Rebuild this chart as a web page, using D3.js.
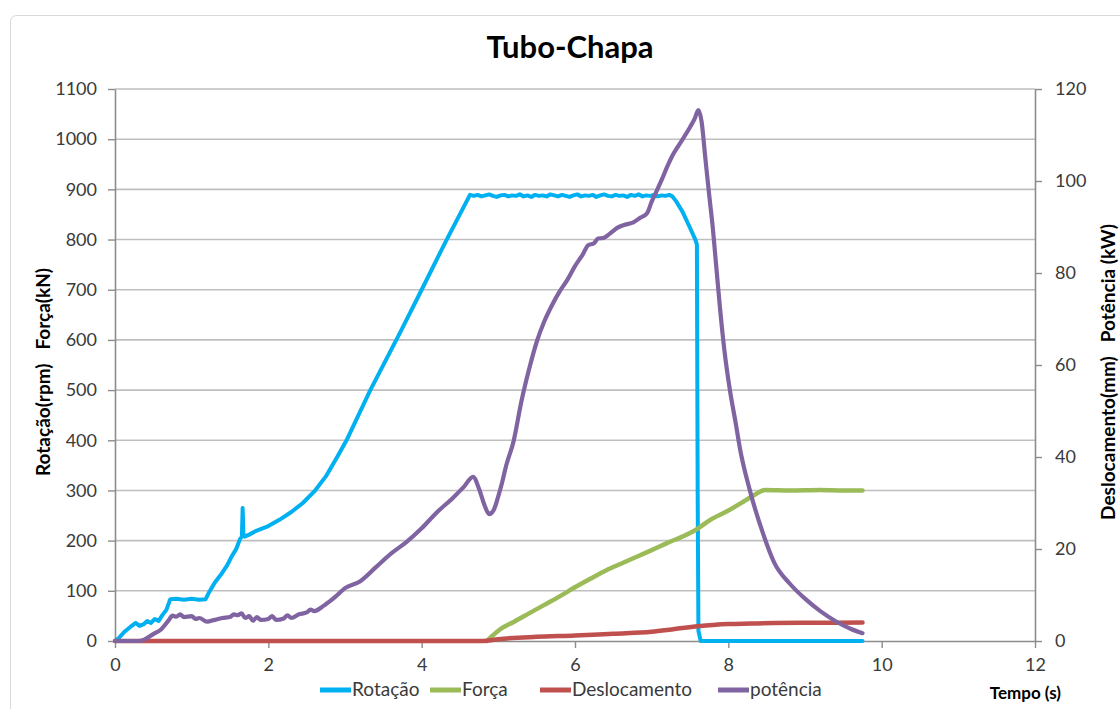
<!DOCTYPE html>
<html><head><meta charset="utf-8">
<script src="https://cdn.jsdelivr.net/npm/d3@7"></script>
<style>
html,body{margin:0;padding:0;background:#fff;}
svg{display:block;font-family:Lato,"Open Sans",sans-serif;}
</style></head>
<body><svg id="c" width="1120" height="709"></svg>
<script>
// ---------- data ----------
const title = "Tubo-Chapa";
const seriesNames = ["Rotação","Força","Deslocamento","potência"];
const xTicks = [0,2,4,6,8,10,12];
const leftTicks = [0,100,200,300,400,500,600,700,800,900,1000,1100];
const rightTicks = [0,20,40,60,80,100,120];

const rotacaoT = [0,0.05,0.12,0.2,0.27,0.32,0.37,0.42,0.47,0.52,0.57,0.62,0.67,0.72,0.8,0.9,1.0,1.1,1.18,1.22,1.3,1.38,1.46,1.52,1.58,1.63,1.655,1.665,1.675,1.69,1.75,1.85,2.0,2.15,2.3,2.45,2.6,2.75,2.9,3.02,3.33,3.72,4.0,4.3,4.63,
 4.68,4.73,4.78,4.83,4.88,4.93,4.98,5.03,5.08,5.13,5.18,5.23,5.28,5.33,5.38,5.43,5.48,5.53,5.58,5.63,5.68,5.73,5.78,5.83,5.88,5.93,5.98,6.03,6.08,6.13,6.18,6.23,6.28,6.33,6.38,6.43,6.48,6.53,6.58,6.63,6.68,6.73,6.78,6.83,6.88,6.93,6.98,7.03,7.08,7.13,7.18,7.23,
 7.27,7.32,7.4,7.48,7.57,7.59,7.6,7.61,7.64,9.75];
const rotacaoV = [0,6,18,28,36,30,33,40,36,44,40,52,62,83,84,82,84,82,83,95,116,132,150,168,183,203,208,265,212,208,212,220,229,242,257,275,298,328,367,400,500,615,700,792,889,
 887,889,886,888,890,887,885,888,889,886,888,887,890,886,888,885,889,887,888,886,890,888,886,889,887,885,888,890,886,888,887,889,885,888,890,887,886,889,887,888,885,889,887,890,886,888,887,889,886,888,887,889,
 886,876,856,830,800,790,300,20,0,0];

const forcaT = [4.85,4.92,4.98,5.05,5.2,5.4,5.6,5.8,6.0,6.2,6.41,6.6,6.85,7.0,7.2,7.4,7.5,7.6,7.76,8.0,8.2,8.35,8.48,8.8,9.2,9.5,9.75];
const forcaV = [0,10,18,26,38,55,72,89,107,124,141,154,171,181,195,208,215,224,241,260,278,292,301,300,301,300,300];

const deslocT = [0,1,2,3,4,4.8,5.0,5.5,6.0,6.5,7.0,7.3,7.6,7.8,8.0,8.3,8.6,9.0,9.75];
const deslocV = [0,0,0,0,0,0,0.4,0.9,1.2,1.6,2.0,2.6,3.2,3.5,3.7,3.8,3.9,3.95,4.0];

const potenciaT = [0,0.3,0.38,0.5,0.6,0.7,0.75,0.8,0.85,0.9,1.0,1.05,1.1,1.2,1.3,1.4,1.5,1.55,1.6,1.65,1.7,1.75,1.8,1.85,1.9,2.0,2.05,2.1,2.2,2.25,2.3,2.4,2.5,2.55,2.6,2.7,2.75,2.8,2.9,3.0,
 3.2,3.4,3.6,3.8,4.0,4.2,4.4,4.55,4.67,4.75,4.82,4.88,4.94,5.0,5.05,5.1,5.2,5.3,5.4,5.5,5.6,5.7,5.8,5.9,6.0,6.1,6.17,6.25,6.3,6.37,6.45,6.55,6.65,6.76,6.85,6.94,7.0,7.07,7.15,7.2,7.27,7.34,7.42,7.5,7.56,7.61,
 7.65,7.7,7.75,7.79,7.85,7.89,7.95,8.02,8.1,8.15,8.28,8.45,8.6,8.8,9.0,9.2,9.4,9.6,9.75];
const potenciaV = [0,0,0.3,1.5,2.5,4.5,5.5,5.3,5.8,5.2,5.4,4.8,5.0,4.2,4.6,5.0,5.2,5.8,5.6,6.0,5.0,5.4,4.4,5.2,4.6,4.8,5.4,4.6,4.9,5.6,5.0,5.8,6.2,6.8,6.5,7.4,8.0,8.6,10,11.5,
 13,16,19,21.5,24.5,28,31,33.5,35.7,33,29.5,27.6,28.5,31.5,34.5,38,43.5,52,59,65,69.5,73,76,78.5,81.5,84,86,86.5,87.5,87.6,88.5,89.8,90.5,91,92,93,95.5,98,101,103,105.5,107.4,109.5,111.7,113.5,115.4,
 113,105,97,91,80,72.6,63,54.6,47,42,32.8,23.5,17,12.5,9.2,6.5,4.3,2.6,1.7];

// ---------- layout ----------
const svg = d3.select("#c");
const L = 115, R = 1035, T = 89, B = 641;
const x = d3.scaleLinear().domain([0,12]).range([L,R]);
const yL = d3.scaleLinear().domain([0,1100]).range([B,T]);
const yR = d3.scaleLinear().domain([0,120]).range([B,T]);
const colors = ["#00B0F0","#9BBB59","#C0504D","#8064A2"];
const widths = [4,4.5,4.5,4.2];
const axisCol = "#8c8c8c", gridCol = "#bfbfbf", txtCol = "#3a3a3a";

// chart border
svg.append("rect").attr("x",10.5).attr("y",15.5).attr("width",1130).attr("height",720)
  .attr("rx",6).attr("fill","#fff").attr("stroke","#d9d9d9").attr("stroke-width",1);

// gridlines
svg.append("g").selectAll("line").data(leftTicks.filter(d=>d>0)).join("line")
  .attr("x1",L).attr("x2",R).attr("y1",d=>yL(d)).attr("y2",d=>yL(d))
  .attr("stroke",gridCol).attr("stroke-width",1.6);

// axes
function styleAxis(g){
  g.select(".domain").attr("stroke",axisCol).attr("stroke-width",1.6);
  g.selectAll(".tick line").attr("stroke",axisCol).attr("stroke-width",1.4);
  g.selectAll(".tick text").attr("fill",txtCol).style("font-size","18px").style("font-family","Lato");
}
const fmt = d3.format("d");
svg.append("g").attr("transform",`translate(${L},0)`)
  .call(d3.axisLeft(yL).tickValues(leftTicks).tickFormat(fmt).tickSize(7).tickSizeOuter(0).tickPadding(11))
  .call(styleAxis);
svg.append("g").attr("transform",`translate(${R},0)`)
  .call(d3.axisRight(yR).tickValues(rightTicks).tickFormat(fmt).tickSize(7).tickSizeOuter(0).tickPadding(13))
  .call(styleAxis);
svg.append("g").attr("transform",`translate(0,${B})`)
  .call(d3.axisBottom(x).tickValues(xTicks).tickFormat(fmt).tickSize(7).tickSizeOuter(0).tickPadding(10))
  .call(styleAxis);

// series
const lines = [
  {t:rotacaoT, v:rotacaoV, y:yL, c:d3.curveLinear},
  {t:forcaT, v:forcaV, y:yL, c:d3.curveMonotoneX},
  {t:deslocT, v:deslocV, y:yR, c:d3.curveMonotoneX},
  {t:potenciaT, v:potenciaV, y:yR, c:d3.curveMonotoneX}
];
lines.forEach((s,i)=>{
  const pts = s.t.map((t,k)=>[t,s.v[k]]);
  const gen = d3.line().curve(s.c).x(d=>x(d[0])).y(d=>s.y(d[1]));
  svg.append("path").attr("d",gen(pts)).attr("fill","none")
    .attr("stroke",colors[i]).attr("stroke-width",widths[i])
    .attr("stroke-linejoin","round").attr("stroke-linecap","round");
});

// title
svg.append("text").attr("x",570).attr("y",58).attr("text-anchor","middle")
  .style("font-size","31px").style("font-weight","bold").attr("fill","#000").text(title);

// axis titles
svg.append("text").attr("transform","translate(50,372) rotate(-90)").attr("text-anchor","middle")
  .style("font-size","19px").style("font-weight","bold").attr("fill","#000")
  .attr("xml:space","preserve").text("Rotação(rpm)   Força(kN)");
svg.append("text").attr("transform","translate(1115,372) rotate(-90)").attr("text-anchor","middle")
  .style("font-size","19px").style("font-weight","bold").attr("fill","#000")
  .attr("xml:space","preserve").text("Deslocamento(mm)   Potência (kW)");
svg.append("text").attr("x",1061).attr("y",699).attr("text-anchor","end")
  .style("font-size","17px").style("font-weight","bold").attr("fill","#000").text("Tempo (s)");

// legend
const legX = [320,430,540,718];
const lg = svg.append("g");
seriesNames.forEach((n,i)=>{
  lg.append("line").attr("x1",legX[i]).attr("x2",legX[i]+31).attr("y1",690).attr("y2",690)
    .attr("stroke",colors[i]).attr("stroke-width",5);
  lg.append("text").attr("x",legX[i]+32).attr("y",696).style("font-size","19px")
    .attr("fill",txtCol).text(n);
});
</script></body></html>
